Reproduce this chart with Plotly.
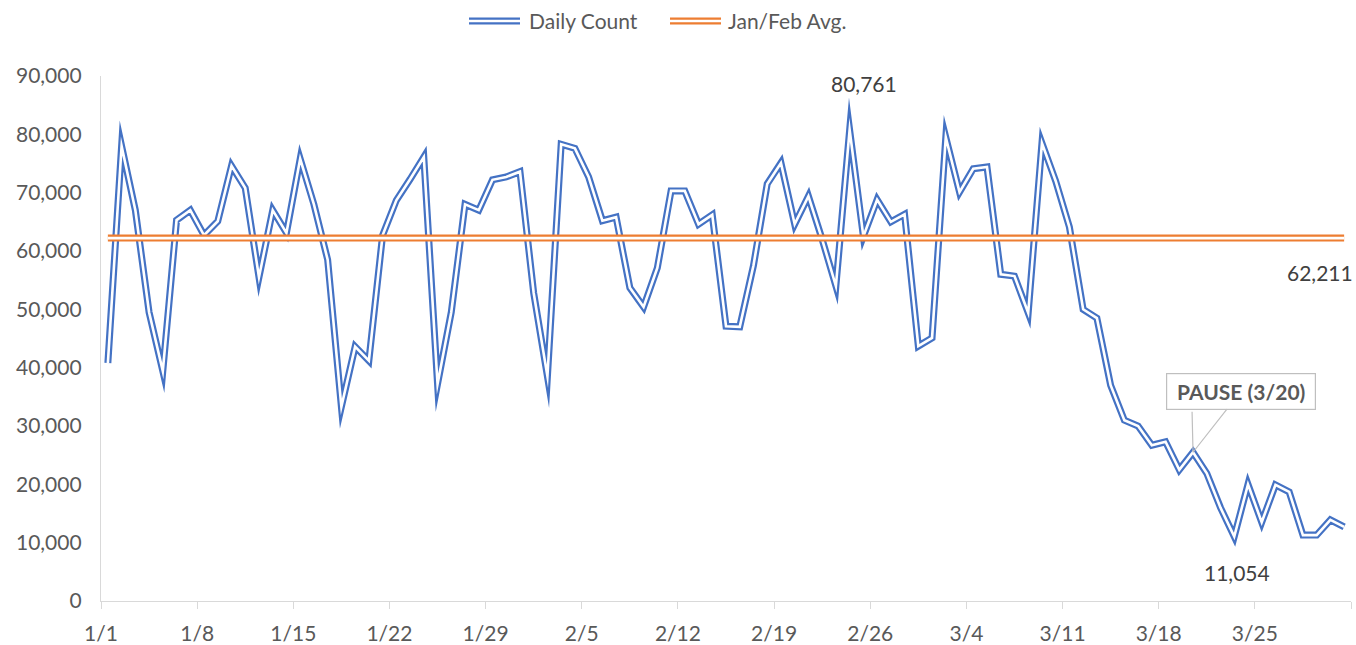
import pandas as pd
import plotly.graph_objects as go

# ---------------- data ----------------
dates = pd.date_range("2020-01-01", "2020-03-31", freq="D")
date_labels = [f"{d.month}/{d.day}" for d in dates]

daily_count = [
    40800, 78000, 67000, 49500, 39400, 65300, 67000, 62700, 65100, 74600,   # 1/1 - 1/10
    70800, 55500, 67000, 63100, 75800, 68000, 58500, 33300, 43600, 41200,   # 1/11 - 1/20
    62700, 68700, 72300, 76100, 37200, 49500, 68000, 67000, 72200, 72700,   # 1/21 - 1/30
    73600, 52800, 38500, 78300, 77600, 72700, 65200, 65800, 53700, 50400,   # 1/31 - 2/9
    57100, 70300, 70300, 64600, 66200, 47100, 47000, 57500, 71500, 75100,   # 2/10 - 2/19
    64600, 69400, 62000, 54000, 80761, 62500, 68800, 65000, 66300, 43700,   # 2/20 - 2/29
    45100, 79500, 70100, 74100, 74400, 56000, 55700, 49400, 78500, 72000,   # 3/1 - 3/10
    64100, 50000, 48500, 37000, 31000, 30000, 26700, 27300, 22500, 25500,   # 3/11 - 3/20
    21900, 16000, 11054, 20000, 13500, 19900, 18700, 11300, 11300, 13900,   # 3/21 - 3/30
    12700,                                                                  # 3/31
]
jan_feb_avg = 62211
pause_label = "PAUSE (3/20)"
pause_date = "3/20"

series_names = ["Daily Count", "Jan/Feb Avg."]
y_ticks = list(range(0, 90001, 10000))

# ---------------- styling ----------------
BLUE = "#4472C4"
ORANGE = "#ED7D31"
AXIS = "#D9D9D9"
TXT = "#595959"
LBL = "#404040"
FONT = "Lato"
FS = 21
OUTER_W = 7
GAP_W = 2.6

n = len(dates)
xpos = [i + 0.5 for i in range(n)]          # Excel "between tick marks" placement
avg_series = [jan_feb_avg] * n

fig = go.Figure()
for yvals, col in [(daily_count, BLUE), (avg_series, ORANGE)]:
    fig.add_trace(go.Scatter(x=xpos, y=yvals, mode="lines",
                             line=dict(color=col, width=OUTER_W),
                             showlegend=False, hoverinfo="skip"))
    fig.add_trace(go.Scatter(x=xpos, y=yvals, mode="lines",
                             line=dict(color="white", width=GAP_W),
                             showlegend=False, hoverinfo="skip"))

tickvals = list(range(0, n + 1, 7))
ticktext = [date_labels[i] if i < n else "" for i in tickvals]

fig.update_layout(
    width=1356, height=645,
    margin=dict(l=101, r=5, t=76, b=44),
    paper_bgcolor="white", plot_bgcolor="white",
    font=dict(family=FONT, size=FS, color=TXT),
    showlegend=False,
    xaxis=dict(range=[0, n], tickmode="array", tickvals=tickvals, ticktext=ticktext,
               ticks="outside", ticklen=7, tickcolor=AXIS, tickwidth=1.3,
               showline=True, linecolor=AXIS, linewidth=1.3, automargin=False,
               showgrid=False, zeroline=False, ticklabelstandoff=7,
               tickfont=dict(family=FONT, size=FS, color=TXT)),
    yaxis=dict(range=[0, 90000], tickmode="array", tickvals=y_ticks, tickformat=",",
               showline=True, linecolor=AXIS, linewidth=1.3, ticks="", automargin=False,
               showgrid=False, zeroline=False, ticklabelstandoff=14,
               tickfont=dict(family=FONT, size=FS, color=TXT)),
)

# ---------------- data labels ----------------
imax = daily_count.index(max(daily_count))
imin = daily_count.index(min(daily_count))
ipause = date_labels.index(pause_date)

fig.add_annotation(x=xpos[imax], y=daily_count[imax], text=f"{daily_count[imax]:,}",
                   showarrow=False, xshift=14, yshift=46,
                   font=dict(family=FONT, size=FS, color=LBL))
fig.add_annotation(x=xpos[imin], y=daily_count[imin], text=f"{daily_count[imin]:,}",
                   showarrow=False, xshift=3, yshift=-36,
                   font=dict(family=FONT, size=FS, color=LBL))
fig.add_annotation(x=xpos[-1], y=jan_feb_avg, text=f"{jan_feb_avg:,}",
                   showarrow=False, xshift=-24, yshift=-34,
                   font=dict(family=FONT, size=FS, color=LBL))

# callout
fig.add_annotation(x=xpos[ipause], y=daily_count[ipause], text=f"<b>{pause_label}</b>",
                   showarrow=True, ax=48, ay=-61, axref="pixel", ayref="pixel",
                   arrowhead=0, arrowwidth=1.2, arrowcolor="#BFBFBF", standoff=0,
                   bgcolor="white", bordercolor="#BFBFBF", borderwidth=1.2, borderpad=5,
                   width=138, font=dict(family=FONT, size=FS, color=TXT))
fig.add_annotation(x=xpos[ipause], y=daily_count[ipause], text=" ",
                   showarrow=True, ax=-1, ay=-42, axref="pixel", ayref="pixel",
                   arrowhead=0, arrowwidth=1.2, arrowcolor="#BFBFBF", standoff=0,
                   borderpad=0, font=dict(size=2))

# ---------------- legend (double-line symbols) ----------------
def px_x(p):
    return (p - 101) / 1250.0

def px_y(p):
    return (601 - p) / 525.0

ly = px_y(21)
for (x0, x1, tx, name, col) in [(469, 520, 527, series_names[0], BLUE),
                                (670, 721, 726, series_names[1], ORANGE)]:
    fig.add_shape(type="line", xref="paper", yref="paper", x0=px_x(x0), x1=px_x(x1),
                  y0=ly, y1=ly, line=dict(color=col, width=OUTER_W))
    fig.add_shape(type="line", xref="paper", yref="paper", x0=px_x(x0), x1=px_x(x1),
                  y0=ly, y1=ly, line=dict(color="white", width=GAP_W))
    fig.add_annotation(xref="paper", yref="paper", x=px_x(tx), y=ly, text=name,
                       xanchor="left", yanchor="middle", showarrow=False,
                       font=dict(family=FONT, size=FS, color=TXT))

post = """
document.body.style.margin = '0';
document.body.style.padding = '0';
document.body.style.overflow = 'hidden';
var gd = document.getElementById('{plot_id}');
function fixJoins(){
  gd.querySelectorAll('path.js-line').forEach(function(p){
    p.style.strokeLinejoin = 'miter';
    p.style.strokeMiterlimit = '60';
  });
}
fixJoins();
if (gd.on) { gd.on('plotly_afterplot', fixJoins); }
"""

fig.write_html("out.html", post_script=post, config={"displayModeBar": False})
